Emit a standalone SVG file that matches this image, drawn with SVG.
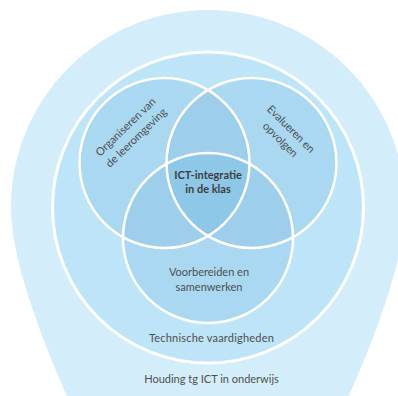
<svg xmlns="http://www.w3.org/2000/svg" width="398" height="396" viewBox="0 0 398 396">
  <style>
    .lbl { font-family: Lato, "Open Sans", "Liberation Sans", sans-serif; font-size: 11px; fill: #4d4f52; text-anchor: middle; }
    .bold { font-weight: bold; fill: #3c3e41; }
    .ring { fill: none; stroke: #ffffff; stroke-width: 3; }
    .venn { fill: none; stroke: #ffffff; stroke-width: 2.5; }
  </style>
  <defs>
    <clipPath id="clipA"><circle cx="164.5" cy="163" r="85"/></clipPath>
    <clipPath id="clipB"><circle cx="251.5" cy="163" r="85"/></clipPath>
    <clipPath id="clipAB"><circle cx="251.5" cy="163" r="85" clip-path="url(#clipA)"/></clipPath>
  </defs>
  <rect width="398" height="396" fill="#ffffff"/>

  <g id="houding">
    <path d="M 11,207 A 197 197 0 0 1 405,207 C 405,265 368,352 349,396 L 340,420 L 76,420 L 67,396 C 48,352 11,265 11,207 Z" fill="#d4edfa"/>
    <text class="lbl" x="211.5" y="383">Houding tg ICT in onderwijs</text>
  </g>

  <g id="technische">
    <circle cx="208" cy="207.5" r="155.5" fill="#bee4f7"/>
    <text class="lbl" x="211.5" y="342" letter-spacing="0.2">Technische vaardigheden</text>
  </g>

  <g id="venn-fills">
    <circle cx="164.5" cy="163" r="85" fill="#aad8f1"/>
    <circle cx="251.5" cy="163" r="85" fill="#aad8f1"/>
    <circle cx="208" cy="238" r="85" fill="#aad8f1"/>
    <circle cx="251.5" cy="163" r="85" fill="#9dcfec" clip-path="url(#clipA)"/>
    <circle cx="208" cy="238" r="85" fill="#9dcfec" clip-path="url(#clipA)"/>
    <circle cx="208" cy="238" r="85" fill="#9dcfec" clip-path="url(#clipB)"/>
    <circle cx="208" cy="238" r="85" fill="#8fc7e8" clip-path="url(#clipAB)"/>
  </g>

  <g id="connectors">
    <circle class="ring" cx="208" cy="207.5" r="155.5"/>
    <circle class="venn" cx="164.5" cy="163" r="85"/>
    <circle class="venn" cx="251.5" cy="163" r="85"/>
    <circle class="venn" cx="208" cy="238" r="85"/>
  </g>

  <g id="organiseren" transform="translate(131,132.5) rotate(-44)">
    <text class="lbl" x="0" y="-4">Organiseren van</text>
    <text class="lbl" x="0" y="11">de leeromgeving</text>
  </g>

  <g id="evalueren" transform="translate(285.5,134.5) rotate(45)">
    <text class="lbl" x="0" y="-4">Evalueren en</text>
    <text class="lbl" x="0" y="11">opvolgen</text>
  </g>

  <g id="voorbereiden">
    <text class="lbl" x="209" y="276">Voorbereiden en</text>
    <text class="lbl" x="209" y="291">samenwerken</text>
  </g>

  <g id="ict">
    <text class="lbl bold" x="208" y="179">ICT-integratie</text>
    <text class="lbl bold" x="208" y="193">in de klas</text>
  </g>
</svg>
